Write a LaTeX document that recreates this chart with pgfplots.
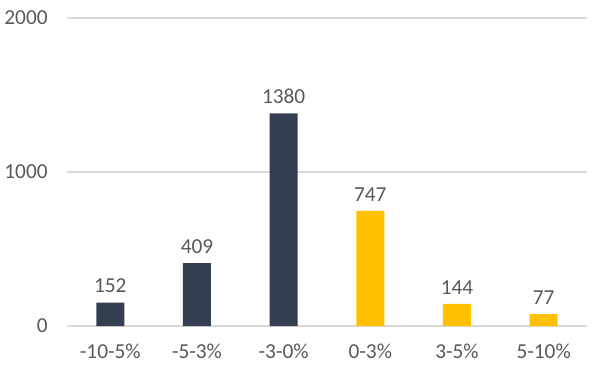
\documentclass[border=0pt]{standalone}
\usepackage{fontspec}
\setmainfont{Carlito}
\usepackage{pgfplots}
\pgfplotsset{compat=1.18}
\definecolor{navy}{HTML}{333F50}
\definecolor{gold}{HTML}{FFC000}
\definecolor{txt}{HTML}{595959}
\definecolor{gridc}{HTML}{D9D9D9}
\begin{document}
\begin{tikzpicture}
\useasboundingbox (-50.25pt,-31.5pt) rectangle (399.75pt,244.5pt);
\begin{axis}[
  at={(0,0)}, anchor=south west,
  scale only axis,
  width=390pt, height=231pt,
  xmin=-0.5, xmax=5.5,
  ymin=0, ymax=2000,
  ybar, bar width=21pt,
  axis line style={draw=none},
  ytick={0,1000,2000},
  xtick={0,1,2,3,4,5},
  xticklabels={-10-5\%,-5-3\%,-3-0\%,0-3\%,3-5\%,5-10\%},
  xmajorgrids=false,
  ymajorgrids=true, grid style={draw=gridc, line width=0.8pt},
  major tick length=0pt,
  tick label style={font=\fontsize{16}{19}\selectfont, text=txt},
  yticklabel style={xshift=-11pt},
  xticklabel style={yshift=-10pt},
  /pgf/number format/assume math mode=true,
  /pgf/number format/set thousands separator={},
  nodes near coords,
  every node near coord/.append style={font=\fontsize{16}{19}\selectfont, text=txt, inner sep=0pt, yshift=7pt, anchor=south},
  clip=false,
]
\addplot[fill=navy, draw=none, bar shift=0pt] coordinates {(0,152) (1,409) (2,1380)};
\addplot[fill=gold, draw=none, bar shift=0pt] coordinates {(3,747) (4,144) (5,77)};
\end{axis}
\end{tikzpicture}
\end{document}
